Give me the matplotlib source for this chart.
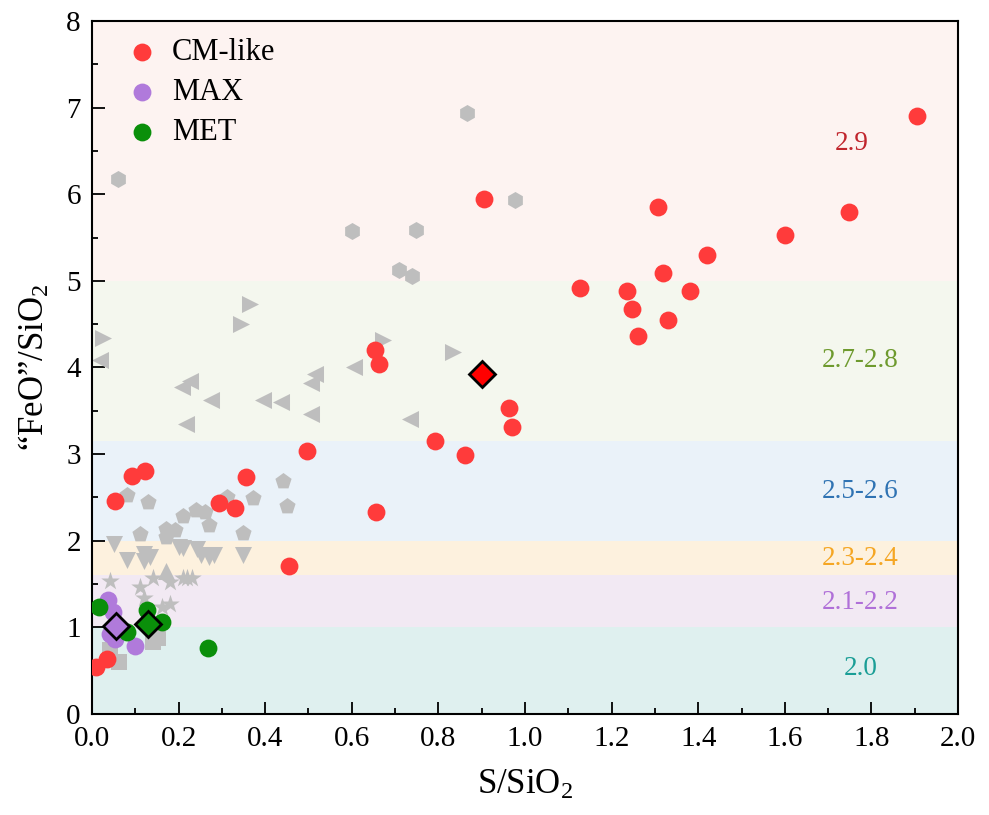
import matplotlib
matplotlib.use('Agg')
import matplotlib.pyplot as plt
from matplotlib.ticker import MultipleLocator, FormatStrFormatter

plt.rcParams['font.family'] = ['Liberation Serif', 'DejaVu Serif']
plt.rcParams['mathtext.fontset'] = 'custom'
plt.rcParams['mathtext.rm'] = 'Liberation Serif'
plt.rcParams['mathtext.it'] = 'Liberation Serif:italic'

# ---------------- data ----------------
cm_x = [1.906, 1.306, 1.749, 1.600, 1.420, 1.319, 1.127, 1.236, 1.382, 1.248, 1.330, 1.260,
        0.905, 0.654, 0.662, 0.963, 0.971, 0.792, 0.862, 0.496, 0.655, 0.456,
        0.093, 0.123, 0.355, 0.053, 0.293, 0.330, 0.034, 0.009]
cm_y = [6.90, 5.85, 5.80, 5.53, 5.30, 5.09, 4.92, 4.88, 4.88, 4.67, 4.55, 4.36,
        5.94, 4.20, 4.04, 3.53, 3.31, 3.15, 2.99, 3.03, 2.33, 1.71,
        2.75, 2.81, 2.73, 2.46, 2.44, 2.38, 0.64, 0.54]
cm_mean = (0.901, 3.92)

max_x = [0.038, 0.049, 0.042, 0.053, 0.099]
max_y = [1.31, 1.18, 0.92, 0.87, 0.79]
max_mean = (0.055, 1.01)

met_x = [0.016, 0.128, 0.161, 0.082, 0.269]
met_y = [1.24, 1.20, 1.06, 0.95, 0.76]
met_mean = (0.130, 1.04)

# grey reference data, by marker shape
hex_x = [0.061, 0.867, 0.978, 0.600, 0.748, 0.708, 0.738]
hex_y = [6.17, 6.94, 5.93, 5.58, 5.59, 5.13, 5.05]
rtri_x = [0.365, 0.345, 0.026, 0.673, 0.833]
rtri_y = [4.73, 4.50, 4.34, 4.32, 4.18]
ltri_x = [0.018, 0.226, 0.207, 0.276, 0.396, 0.436, 0.515, 0.505, 0.505, 0.605, 0.734, 0.217]
ltri_y = [4.09, 3.84, 3.77, 3.62, 3.62, 3.60, 3.93, 3.82, 3.46, 4.01, 3.41, 3.35]
pent_x = [0.440, 0.082, 0.130, 0.311, 0.371, 0.451, 0.211, 0.240, 0.261, 0.270,
          0.111, 0.171, 0.192, 0.171, 0.349]
pent_y = [2.69, 2.53, 2.45, 2.51, 2.49, 2.40, 2.28, 2.35, 2.33, 2.18,
          2.08, 2.14, 2.12, 2.04, 2.09]
dtri_x = [0.052, 0.082, 0.121, 0.119, 0.134, 0.202, 0.211, 0.242, 0.251, 0.271, 0.282, 0.349]
dtri_y = [1.96, 1.78, 1.85, 1.77, 1.81, 1.93, 1.91, 1.90, 1.83, 1.81, 1.83, 1.83]
utri_x = [0.171]
utri_y = [1.65]
star_x = [0.042, 0.111, 0.140, 0.180, 0.211, 0.220, 0.232, 0.120, 0.161, 0.180]
star_y = [1.53, 1.47, 1.57, 1.52, 1.57, 1.57, 1.57, 1.34, 1.24, 1.27]
sq_x = [0.042, 0.063, 0.142, 0.153, 0.140]
sq_y = [0.74, 0.60, 0.83, 0.88, 0.85]

band_edges = [0.0, 1.0, 1.6, 2.0, 3.15, 5.0, 8.0]
band_colors = ['#DFF0EF', '#F2E9F3', '#FDF1DE', '#EAF2F9', '#F4F7EE', '#FDF3F1']
band_labels = ['2.0', '2.1-2.2', '2.3-2.4', '2.5-2.6', '2.7-2.8', '2.9']
band_label_colors = ['#1A9E96', '#B070D8', '#F5A623', '#2F73B3', '#6E9A2E', '#C0252D']
band_label_y = [0.53, 1.29, 1.80, 2.57, 4.08, 6.59]
band_label_x = [1.775, 1.775, 1.775, 1.775, 1.775, 1.755]

x_ticks = [0.0, 0.2, 0.4, 0.6, 0.8, 1.0, 1.2, 1.4, 1.6, 1.8, 2.0]
y_ticks = [0, 1, 2, 3, 4, 5, 6, 7, 8]

# ---------------- figure ----------------
fig = plt.figure(figsize=(9.89, 8.15), dpi=100)
ax = fig.add_axes([0.093, 0.124, 0.8757, 0.8503])

for i in range(len(band_colors)):
    ax.axhspan(band_edges[i], band_edges[i + 1], color=band_colors[i], lw=0, zorder=0)
    ax.text(band_label_x[i], band_label_y[i], band_labels[i], color=band_label_colors[i],
            fontsize=19.5, ha='center', va='center', zorder=1)

grey = '#BEBEBE'
gs = 150
ax.scatter(hex_x, hex_y, marker='h', s=gs, color=grey, lw=0, zorder=2)
ax.scatter(rtri_x, rtri_y, marker='>', s=gs, color=grey, lw=0, zorder=2)
ax.scatter(ltri_x, ltri_y, marker='<', s=gs, color=grey, lw=0, zorder=2)
ax.scatter(pent_x, pent_y, marker='p', s=gs, color=grey, lw=0, zorder=2)
ax.scatter(dtri_x, dtri_y, marker='v', s=gs, color=grey, lw=0, zorder=2)
ax.scatter(utri_x, utri_y, marker='^', s=gs, color=grey, lw=0, zorder=2)
ax.scatter(star_x, star_y, marker='*', s=gs * 1.3, color=grey, lw=0, zorder=2)
ax.scatter(sq_x, sq_y, marker='s', s=gs * 0.8, color=grey, lw=0, zorder=2)

red = '#FF3B3B'
purple = '#B07ADB'
green = '#0A8F0A'
cs = 165
ax.scatter(cm_x, cm_y, s=cs, color=red, lw=0, zorder=3, label='CM-like')
ax.scatter(max_x, max_y, s=cs, color=purple, lw=0, zorder=4, label='MAX')
ax.scatter(met_x, met_y, s=cs, color=green, lw=0, zorder=5, label='MET')

for (mx, my), c in [(cm_mean, '#FF0000'), (max_mean, purple), (met_mean, green)]:
    ax.plot([mx], [my], marker='D', ms=13, mfc=c, mec='black', mew=2, ls='none', zorder=6)

ax.set_xlim(0, 2.0)
ax.set_ylim(0, 8)
ax.set_xticks(x_ticks)
ax.set_yticks(y_ticks)
ax.xaxis.set_major_formatter(FormatStrFormatter('%.1f'))
ax.xaxis.set_minor_locator(MultipleLocator(0.1))
ax.yaxis.set_minor_locator(MultipleLocator(0.5))
ax.tick_params(which='both', direction='in', top=False, right=False, width=1.3, labelsize=21)
ax.tick_params(which='major', length=9)
ax.tick_params(which='minor', length=4.5)
ax.tick_params(axis='x', pad=9)
ax.tick_params(axis='y', pad=8)
for sp in ax.spines.values():
    sp.set_linewidth(1.5)

ax.set_xlabel('S/SiO$_2$', fontsize=25, labelpad=12)
ax.set_ylabel('\u201cFeO\u201d/SiO$_2$', fontsize=25, labelpad=10)

ax.legend(loc='upper left', bbox_to_anchor=(0.0396, 0.975), frameon=False, fontsize=22,
          handlelength=1.0, handletextpad=0.5, labelspacing=0.36, borderaxespad=0,
          borderpad=0, scatterpoints=1)

fig.savefig('out.png', dpi=100)
